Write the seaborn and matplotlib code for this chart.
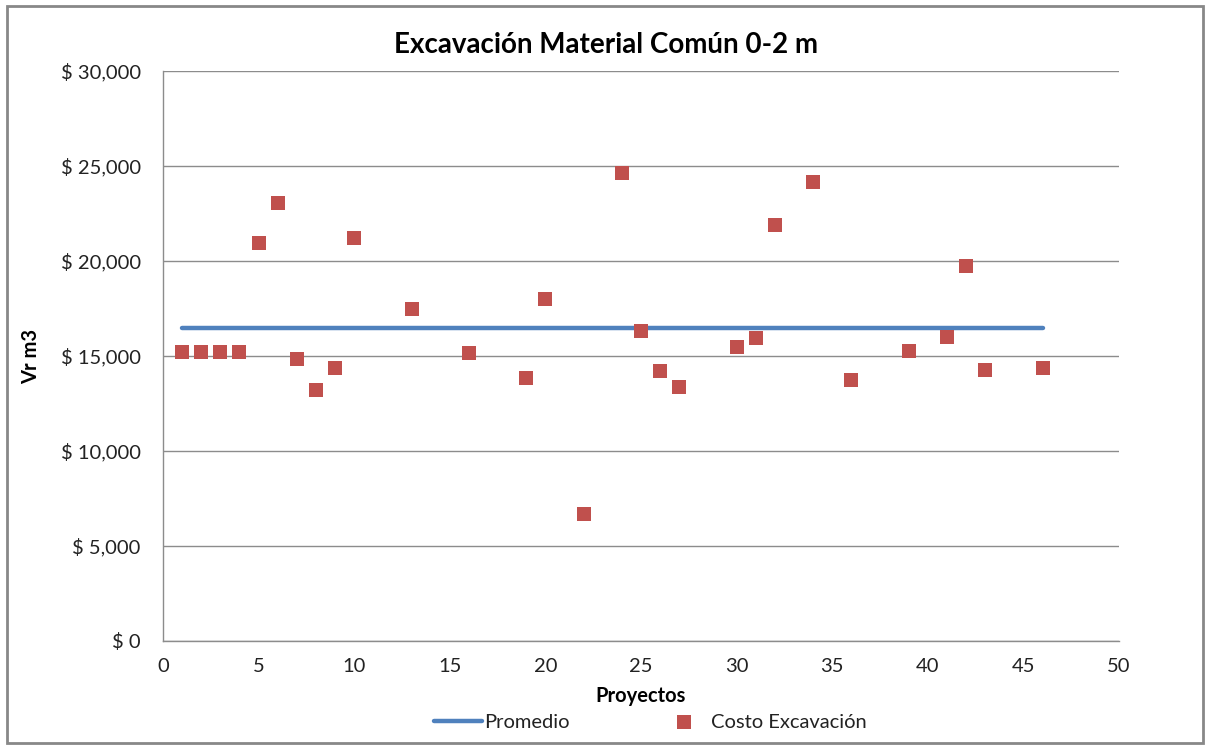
import matplotlib
matplotlib.use("Agg")
import matplotlib.pyplot as plt
import seaborn as sns
import pandas as pd
from matplotlib.patches import Rectangle
from matplotlib.ticker import FuncFormatter, MultipleLocator

proyectos = [1, 2, 3, 4, 5, 6, 7, 8, 9, 10, 13, 16, 19, 20, 22, 24, 25, 26, 27,
             30, 31, 32, 34, 36, 39, 41, 42, 43, 46]
costo = [15200, 15200, 15200, 15200, 20950, 23050, 14850, 13200, 14370, 21200,
         17470, 15160, 13840, 18000, 6680, 24630, 16320, 14210, 13370,
         15470, 15950, 21890, 24160, 13740, 15260, 16000, 19740, 14260, 14370]
promedio_x = [1, 46]
promedio_y = [16470, 16470]

sns.set_theme(style="white")
plt.rcParams['font.family'] = ['Lato', 'DejaVu Sans']

fig = plt.figure(figsize=(12.07, 7.48), dpi=100)
ax = fig.add_axes([163/1207, 107/748, (1119-163)/1207, (641-71)/748])

df_p = pd.DataFrame({"x": promedio_x, "y": promedio_y})
df_c = pd.DataFrame({"x": proyectos, "y": costo})

sns.lineplot(data=df_p, x="x", y="y", ax=ax, color="#4F81BD", linewidth=3.2,
             label="Promedio", zorder=3)
sns.scatterplot(data=df_c, x="x", y="y", ax=ax, color="#C0504D", marker="s",
                s=100, edgecolor="#C0504D", linewidth=0, label="Costo Excavación",
                zorder=4)

ax.set_xlim(0, 50)
ax.set_ylim(0, 30000)
ax.xaxis.set_major_locator(MultipleLocator(5))
ax.yaxis.set_major_locator(MultipleLocator(5000))
ax.yaxis.set_major_formatter(FuncFormatter(lambda v, p: f"$ {int(v):,}"))
ax.grid(axis="y", color="#8C8C8C", linewidth=1.0)
ax.set_axisbelow(True)
for side in ["top", "right"]:
    ax.spines[side].set_visible(False)
for side in ["left", "bottom"]:
    ax.spines[side].set_color("#8C8C8C")
    ax.spines[side].set_linewidth(1.0)
ax.tick_params(axis="both", labelsize=14.5, colors="#222222", length=0)
ax.tick_params(axis="y", pad=16)
ax.tick_params(axis="x", pad=12)

fig.text(606/1207, 1 - 45/748, "Excavación Material Común 0-2 m", fontsize=20,
         fontweight="bold", color="black", ha="center", va="center")
ax.set_xlabel("Proyectos", fontsize=14.5, fontweight="bold", labelpad=8, color="black")
ax.set_ylabel("Vr m3", fontsize=14.5, fontweight="bold", labelpad=14, color="black")

ax.legend(loc="center", bbox_to_anchor=(650/1207 - 163/1207 + 0.0, 0), ncol=2, frameon=False,
          fontsize=14.5, columnspacing=4.5, handlelength=2.4, handletextpad=0.1,
          labelcolor="#222222", bbox_transform=fig.transFigure)
leg = ax.get_legend()
leg.set_bbox_to_anchor((650/1207, 1 - 722/748), transform=fig.transFigure)

fig.patches.append(Rectangle((7/1207, 5/748), 1196/1207, 737/748, transform=fig.transFigure,
                             fill=False, edgecolor="#888888", linewidth=2.0))

fig.savefig("out.png", dpi=100)
